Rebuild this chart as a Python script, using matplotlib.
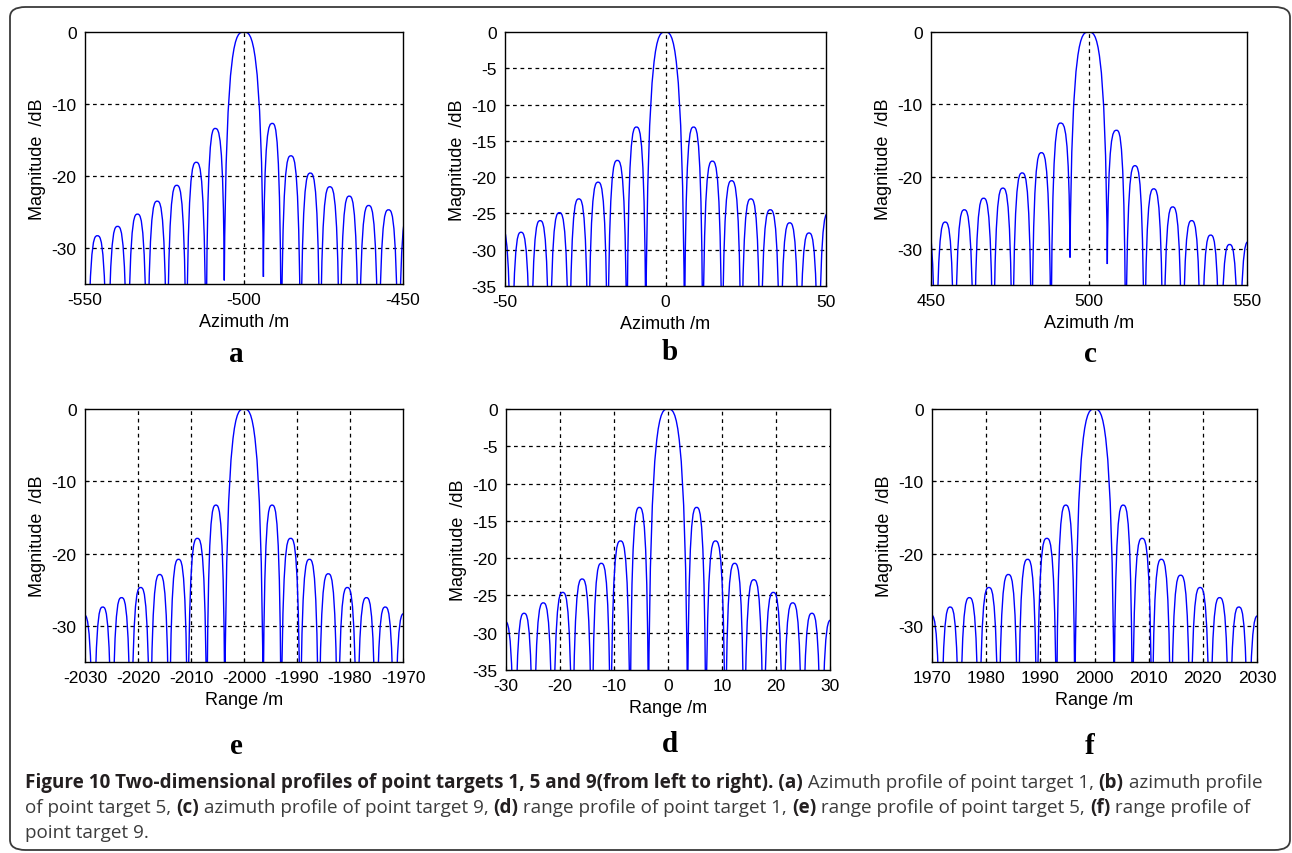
import numpy as np
import matplotlib
matplotlib.use('Agg')
import matplotlib.pyplot as plt
from matplotlib.path import Path
from matplotlib.patches import PathPatch, FancyBboxPatch

plt.rcParams['axes.unicode_minus'] = False

## point target profiles: null positions, lobe peaks (dB), null depths (nan = below axis)

a_nulls = [-555.5, -549.3, -542.9, -536.6, -530.4, -524.2, -518.1, -511.9, -506.2,
           -493.9, -488.3, -482.2, -476.1, -469.9, -463.9, -457.7, -451.4, -445.2]
a_peaks = [-29.0, -28.3, -27.0, -25.3, -23.5, -21.3, -18.1, -13.4, 0.0,
           -12.7, -17.2, -19.6, -21.5, -22.8, -24.1, -24.7, -25.0]
a_null_db = [np.nan] * 8 + [-34.5, -34.0] + [np.nan] * 8

b_nulls = [-54.0, -48.0, -42.0, -36.1, -30.0, -24.0, -18.0, -12.0, -6.1,
           5.9, 11.6, 17.6, 23.6, 29.6, 35.7, 41.7, 47.7, 53.7]
b_peaks = [-27.0, -27.6, -26.0, -24.9, -23.0, -20.7, -17.7, -13.1, 0.0,
           -13.1, -17.8, -20.5, -23.0, -24.5, -26.3, -27.7, -25.0]
b_null_db = [np.nan] * 18

c_nulls = [445.4, 451.5, 457.5, 463.6, 469.7, 475.8, 481.9, 488.0, 494.0,
           505.8, 511.6, 517.5, 523.5, 529.5, 535.5, 541.5, 547.5, 553.5]
c_peaks = [-26.5, -26.3, -24.6, -23.0, -21.6, -19.5, -16.7, -12.6, 0.0,
           -13.6, -18.5, -21.7, -24.2, -26.1, -28.1, -29.4, -29.0]
c_null_db = [np.nan] * 8 + [-31.2, -32.1] + [np.nan] * 8

e_nulls = [-2032.0, -2028.4, -2024.9, -2021.3, -2017.7, -2014.1, -2010.6, -2007.0, -2003.6,
           -1996.4, -1993.0, -1989.4, -1985.9, -1982.3, -1978.7, -1975.1, -1971.6, -1968.0]
e_peaks = [-28.5, -27.4, -26.1, -24.7, -22.9, -20.8, -17.9, -13.3, 0.0,
           -13.3, -17.9, -20.8, -22.8, -24.7, -26.1, -27.4, -28.3]
e_null_db = [np.nan] * 18

d_nulls = [-32.0, -28.4, -24.9, -21.3, -17.7, -14.1, -10.6, -7.0, -3.6,
           3.6, 7.0, 10.6, 14.1, 17.7, 21.3, 24.9, 28.4, 32.0]
d_peaks = [-28.5, -27.4, -26.0, -24.6, -22.8, -20.7, -17.7, -13.2, 0.0,
           -13.2, -17.7, -20.7, -22.9, -24.6, -26.0, -27.4, -28.3]
d_null_db = [np.nan] * 18

f_nulls = [1968.0, 1971.6, 1975.1, 1978.7, 1982.3, 1985.9, 1989.4, 1993.0, 1996.4,
           2003.6, 2007.0, 2010.6, 2014.1, 2017.7, 2021.3, 2024.9, 2028.4, 2032.0]
f_peaks = [-28.5, -27.4, -26.1, -24.7, -22.9, -20.8, -17.9, -13.3, 0.0,
           -13.3, -17.9, -20.8, -23.0, -24.7, -26.1, -27.4, -28.6]
f_null_db = [np.nan] * 18

# panel settings: letter, data, xlim, xticks, x grid, yticks, xlabel
panels = [
    ('a', a_nulls, a_peaks, a_null_db, (-550, -450), [-550, -500, -450], [-500], [0, -10, -20, -30], 'Azimuth /m'),
    ('b', b_nulls, b_peaks, b_null_db, (-50, 50), [-50, 0, 50], [0], list(range(0, -40, -5)), 'Azimuth /m'),
    ('c', c_nulls, c_peaks, c_null_db, (450, 550), [450, 500, 550], [500], [0, -10, -20, -30], 'Azimuth /m'),
    ('e', e_nulls, e_peaks, e_null_db, (-2030, -1970), list(range(-2030, -1965, 10)), list(range(-2020, -1970, 10)), [0, -10, -20, -30], 'Range /m'),
    ('d', d_nulls, d_peaks, d_null_db, (-30, 30), list(range(-30, 35, 10)), list(range(-20, 30, 10)), list(range(0, -40, -5)), 'Range /m'),
    ('f', f_nulls, f_peaks, f_null_db, (1970, 2030), list(range(1970, 2035, 10)), list(range(1980, 2030, 10)), [0, -10, -20, -30], 'Range /m'),
]

# axes boxes in pixels (x0, x1, ytop, ybottom) and letter centres
W, H = 1292, 854
boxes = [(85, 403, 33, 285), (505, 826, 33, 287), (931, 1247, 33, 286),
         (85, 403, 410, 663), (506, 830, 410, 671), (932, 1257, 410, 663)]
letter_pos = [(236, 355), (670, 353), (1090, 355), (236, 747), (670, 745), (1090, 747)]

TICKFONT = ['Liberation Sans', 'DejaVu Sans']


def lobe_path(nulls, peaks, null_db):
    """one bezier arch per lobe, from null to peak to next null"""
    verts, codes = [], []
    for i, p in enumerate(peaks):
        x0, x1 = nulls[i], nulls[i + 1]
        xm = (x0 + x1) / 2
        w = xm - x0
        y0 = null_db[i] if not np.isnan(null_db[i]) else min(p - 32, -40)
        y1 = null_db[i + 1] if not np.isnan(null_db[i + 1]) else min(p - 32, -40)
        verts += [(x0, y0), (x0 + 0.1 * w, p), (x0 + 0.6 * w, p), (xm, p),
                  (xm + 0.4 * w, p), (x1 - 0.1 * w, p), (x1, y1)]
        codes += [Path.MOVETO] + [Path.CURVE4] * 6
    return Path(verts, codes)


fig = plt.figure(figsize=(W / 100, H / 100), dpi=100)

for (letter, nulls, peaks, ndb, xlim, xticks, xgrid, yticks, xlabel), box, lp in zip(panels, boxes, letter_pos):
    x0, x1, yt, yb = box
    ax = fig.add_axes([x0 / W, 1 - yb / H, (x1 - x0) / W, (yb - yt) / H])
    ax.add_patch(PathPatch(lobe_path(nulls, peaks, ndb), fill=False, edgecolor='#0000ff', lw=1.0))
    ax.set_xlim(*xlim)
    ax.set_ylim(-35, 0)
    ax.set_xticks(xticks)
    ax.set_yticks(yticks)
    for g in xgrid:
        ax.axvline(g, color='k', lw=0.9, linestyle=(0, (3, 3)), zorder=0.5)
    for g in yticks[1:]:
        if g > -35:
            ax.axhline(g, color='k', lw=0.9, linestyle=(0, (3, 3)), zorder=0.5)
    ax.tick_params(direction='in', length=3, width=0.8, labelsize=12.5, pad=6)
    for lab in ax.get_xticklabels() + ax.get_yticklabels():
        lab.set_family(TICKFONT)
    for s in ax.spines.values():
        s.set_linewidth(1.0)
    ax.set_ylabel('Magnitude  /dB', fontsize=13, family=TICKFONT, labelpad=4)
    ax.set_xlabel(xlabel, fontsize=13, family=TICKFONT, labelpad=4)
    fig.text(lp[0] / W, 1 - lp[1] / H, letter, fontsize=21, fontweight='bold',
             family=['Liberation Serif', 'DejaVu Serif'], ha='center', va='center')

# frame round the whole figure
fig.patches.append(FancyBboxPatch((10 / W, 1 - 851 / H), 1280 / W, 843 / H,
                                  boxstyle='round,pad=0,rounding_size=0.012',
                                  transform=fig.transFigure, fill=False,
                                  edgecolor='#3a3a3a', lw=1.3))

# caption, bold and regular pieces placed one after the other
caption = [
    [('Figure 10 Two-dimensional profiles of point targets 1, 5 and 9(from left to right). (a)', True),
     (' Azimuth profile of point target 1, ', False), ('(b)', True), (' azimuth profile', False)],
    [('of point target 5, ', False), ('(c)', True), (' azimuth profile of point target 9, ', False),
     ('(d)', True), (' range profile of point target 1, ', False), ('(e)', True),
     (' range profile of point target 5, ', False), ('(f)', True), (' range profile of', False)],
    [('point target 9.', False)],
]
baselines = [788, 813, 838]
renderer = fig.canvas.get_renderer()
for line, yb in zip(caption, baselines):
    x = 25 / W
    for txt, bold in line:
        t = fig.text(x, 1 - yb / H, txt, fontsize=13.6, family=['Open Sans', 'DejaVu Sans'],
                     fontweight='bold' if bold else 'normal',
                     color='#231f20' if bold else '#3c3c3c', va='baseline', ha='left')
        x += t.get_window_extent(renderer=renderer).width / W

fig.savefig('out.png', dpi=100)
